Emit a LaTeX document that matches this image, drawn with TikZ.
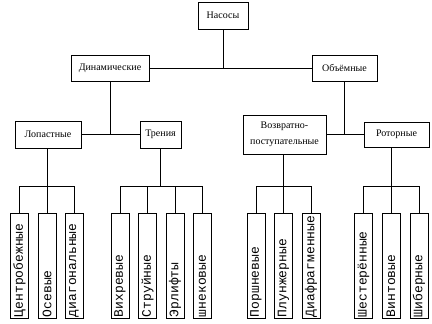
\documentclass[tikz,border=0pt]{standalone}
\usepackage{fontspec}
\setmainfont{Liberation Serif}
\newfontfamily\leaffont{Liberation Mono}
\usetikzlibrary{positioning}

\begin{document}
\begin{tikzpicture}[
  x=1pt, y=-1pt,
  box/.style={draw,line width=0.8pt,inner sep=2pt,font=\fontsize{10}{16}\selectfont,
              minimum width=#1,minimum height=27pt,align=center},
  leaf/.style={draw,line width=0.8pt,rotate=90,minimum width=105pt,minimum height=18pt,
               inner xsep=1pt,inner ysep=0pt,text width=103pt,align=left,
               font=\leaffont\fontsize{13}{13}\selectfont},
  link/.style={line width=0.8pt}
]
\useasboundingbox (0,0) rectangle (432,324);

% levels
\node[box=50pt]  (pumps) at (223,15.5)  {Насосы};
\node[box=78pt,minimum height=26pt]  (dyn) at (110,68)   {Динамические};
\node[box=65pt,minimum height=26pt]  (vol) at (344.5,68) {Объёмные};

\node[box=66pt]  (blade) at (48,134.5)    {Лопастные};
\node[box=41pt]  (fric)  at (160.5,134.5) {Трения};
\node[box=83pt,minimum height=39pt] (recip) at (284.5,134.5) {Возвратно-\\поступательные};
\node[box=65pt,minimum height=25pt] (rot)   at (396.5,134.5) {Роторные};

% leaves
\node[leaf] (cent)  at (19.5,265.5)  {Центробежные};
\node[leaf] (axial) at (47,265.5)    {Осевые};
\node[leaf] (diag)  at (74,265.5)    {диагональные};
\node[leaf] (vort)  at (120,265.5)   {Вихревые};
\node[leaf] (jet)   at (147.5,265.5) {Струйные};
\node[leaf] (lift)  at (175,265.5)   {Эрлифты};
\node[leaf] (auger) at (202.5,265.5) {шнековые};
\node[leaf] (pist)  at (256,265.5)   {Поршневые};
\node[leaf] (plung) at (283.5,265.5) {Плунжерные};
\node[leaf] (diaph) at (311,265.5)   {Диафрагменные};
\node[leaf] (gear)  at (363.5,265.5) {Шестерённые};
\node[leaf] (screw) at (391,265.5)   {Винтовые};
\node[leaf] (vane)  at (419,265.5)   {Шиберные};

% upper links
\draw[link] (dyn) -- (vol);
\draw[link] (pumps.south) -- (pumps.south |- dyn.east);
\draw[link] (blade) -- (fric);
\draw[link] (dyn.south) -- (dyn.south |- blade.east);
\draw[link] (recip) -- (rot);
\draw[link] (vol.south) -- (vol.south |- rot.west);

% leaf links
\draw[link] (cent.east) -- ++(0,-26) -| (diag.east);
\draw[link] (axial.east) -- (axial.east |- blade.south);
\draw[link] (vort.east) -- ++(0,-26) coordinate (fricbus) -| (auger.east);
\draw[link] (jet.east) -- ++(0,-26);
\draw[link] (lift.east) -- ++(0,-26);
\draw[link] (fric.south) -- (fric.south |- fricbus);
\draw[link] (pist.east) -- ++(0,-26) -| (diaph.east);
\draw[link] (plung.east) -- (plung.east |- recip.south);
\draw[link] (gear.east) -- ++(0,-26) -| (vane.east);
\draw[link] (screw.east) -- (screw.east |- rot.south);
\end{tikzpicture}
\end{document}
